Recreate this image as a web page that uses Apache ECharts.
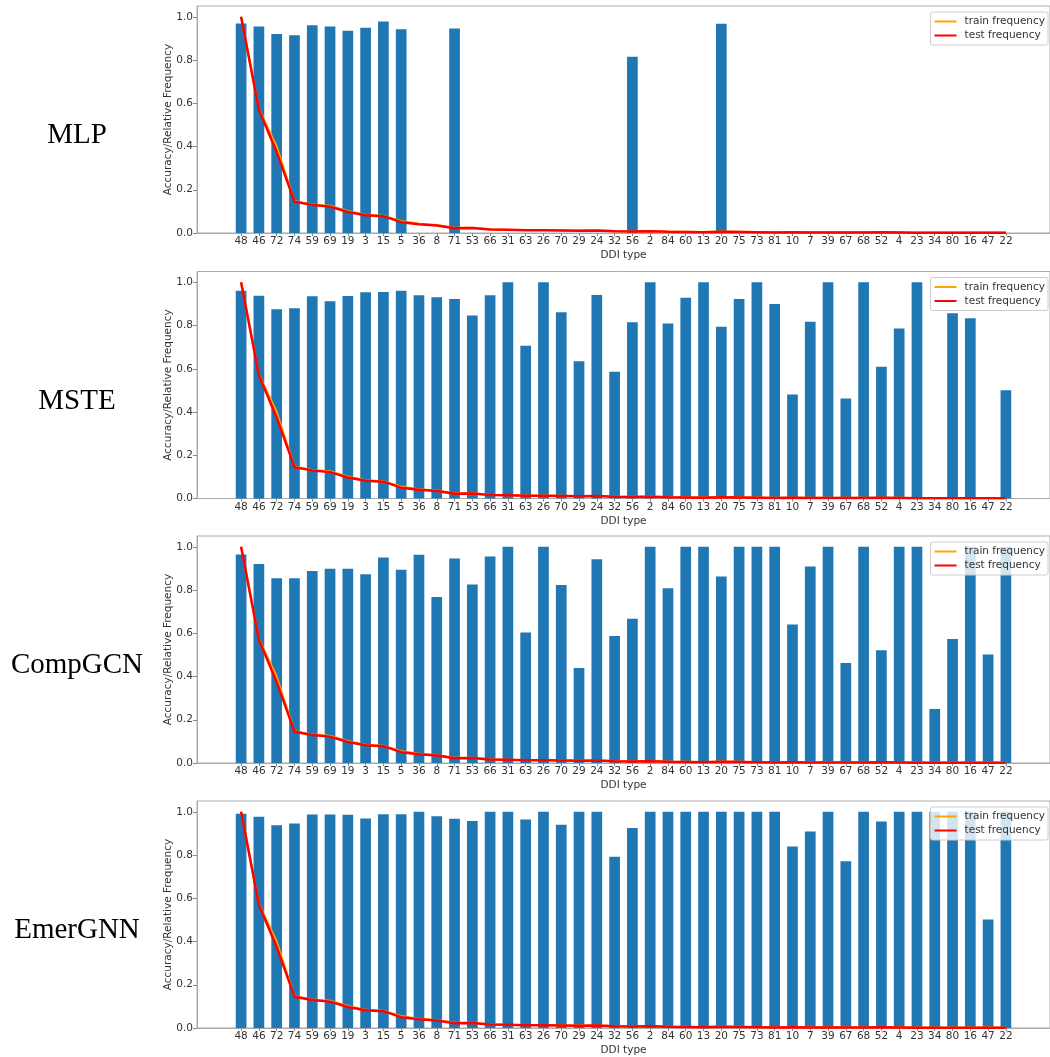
<!DOCTYPE html>
<html>
<head>
<meta charset="utf-8">
<script src="https://cdn.jsdelivr.net/npm/echarts@6/dist/echarts.min.js"></script>
<style>
html,body{margin:0;padding:0;background:#fff;}
#chart{width:1050px;height:1057px;}
</style>
</head>
<body>
<div id="chart"></div>
<script>
// DDI types (x categories)
const cats = ['48','46','72','74','59','69','19','3','15','5','36','8','71','53','66','31','63','26','70','29','24','32','56','2','84','60','13','20','75','73','81','10','7','39','67','68','52','4','23','34','80','16','47','22'];

// relative frequencies
const trainFreq = [1.0,0.575,0.40,0.148,0.132,0.126,0.102,0.085,0.080,0.056,0.043,0.037,0.024,0.024,0.017,0.015,0.014,0.014,0.013,0.011,0.012,0.009,0.008,0.009,0.007,0.006,0.005,0.007,0.006,0.005,0.003,0.004,0.003,0.003,0.003,0.003,0.004,0.003,0.002,0.002,0.002,0.002,0.002,0.002];
const testFreq  = [1.0,0.570,0.375,0.145,0.130,0.122,0.097,0.082,0.078,0.050,0.041,0.035,0.022,0.023,0.016,0.015,0.013,0.013,0.012,0.010,0.012,0.008,0.007,0.008,0.006,0.005,0.004,0.006,0.005,0.004,0.002,0.003,0.002,0.002,0.002,0.002,0.003,0.002,0.001,0.001,0.001,0.001,0.001,0.001];

// accuracies per model
const mlpAcc     = [0.969,0.955,0.920,0.915,0.961,0.955,0.935,0.949,0.978,0.943,0,0,0.946,0,0,0,0,0,0,0,0,0,0.815,0,0,0,0,0.968,0,0,0,0,0,0,0,0,0,0,0,0,0,0,0,0];
const msteAcc    = [0.961,0.938,0.875,0.880,0.935,0.912,0.937,0.954,0.955,0.961,0.940,0.931,0.923,0.847,0.940,1.0,0.706,1.0,0.861,0.635,0.941,0.586,0.815,1.0,0.809,0.929,1.0,0.794,0.923,1.0,0.900,0.481,0.818,1.0,0.462,1.0,0.609,0.786,1.0,0,0.857,0.834,0,0.501];
const compgcnAcc = [0.965,0.920,0.854,0.854,0.888,0.899,0.899,0.873,0.951,0.894,0.963,0.768,0.946,0.826,0.955,1.0,0.604,1.0,0.823,0.439,0.942,0.587,0.667,1.0,0.808,1.0,1.0,0.863,1.0,1.0,1.0,0.641,0.909,1.0,0.462,1.0,0.522,1.0,1.0,0.250,0.573,1.0,0.502,1.0];
const emergnnAcc = [0.991,0.977,0.938,0.946,0.988,0.988,0.986,0.969,0.989,0.989,1.0,0.980,0.968,0.958,1.0,1.0,0.965,1.0,0.940,1.0,1.0,0.792,0.925,1.0,1.0,1.0,1.0,1.0,1.0,1.0,1.0,0.840,0.909,1.0,0.771,1.0,0.955,1.0,1.0,1.0,1.0,1.0,0.502,1.0];

const models = ['MLP','MSTE','CompGCN','EmerGNN'];
const accs = [mlpAcc, msteAcc, compgcnAcc, emergnnAcc];
const yTicks = [0, 0.2, 0.4, 0.6, 0.8, 1.0];
const xName = 'DDI type';
const yName = 'Accuracy/Relative Frequency';
const trainName = 'train frequency';
const testName = 'test frequency';

const FONT = '"DejaVu Sans"';
const tops = [6, 271.5, 536, 801];
const gridH = 227, gridL = 197, gridW = 858;
const idx = cats.map((c, i) => i);

const grid = [], xAxis = [], yAxis = [], series = [], legend = [], graphic = [];
tops.forEach((t, p) => {
  grid.push({left: gridL, top: t, width: gridW, height: gridH, show: true, borderColor: '#aaa', borderWidth: 1, backgroundColor: 'transparent'});
  xAxis.push({
    type: 'value', gridIndex: p, min: -2.48, max: 45.48,
    name: xName, nameLocation: 'middle', nameGap: 17, nameMoveOverlap: false,
    nameTextStyle: {fontFamily: FONT, fontSize: 10.5, color: '#333'},
    axisLine: {show: true, onZero: false, lineStyle: {color: '#aaa'}},
    axisTick: {show: true, length: 3, customValues: idx, lineStyle: {color: '#888'}},
    axisLabel: {customValues: idx, formatter: v => cats[v] !== undefined ? cats[v] : '', margin: 3, fontFamily: FONT, fontSize: 10.5, color: '#333'},
    splitLine: {show: false}
  });
  yAxis.push({
    type: 'value', gridIndex: p, min: 0, max: 1.05,
    name: yName, nameLocation: 'middle', nameGap: 23, nameRotate: 90, nameMoveOverlap: false,
    nameTextStyle: {fontFamily: FONT, fontSize: 10.5, color: '#333'},
    axisLine: {show: true, onZero: false, lineStyle: {color: '#aaa'}},
    axisTick: {show: true, length: 4, customValues: yTicks, lineStyle: {color: '#888'}},
    axisLabel: {customValues: yTicks, formatter: v => v.toFixed(1), margin: 4, fontFamily: FONT, fontSize: 10.5, color: '#333'},
    splitLine: {show: false}
  });
  series.push({
    type: 'bar', xAxisIndex: p, yAxisIndex: p, barWidth: 10.7,
    itemStyle: {color: '#1f77b4'}, z: 2, silent: true,
    data: idx.map(i => [i, accs[p][i]])
  });
  series.push({
    name: trainName, type: 'line', xAxisIndex: p, yAxisIndex: p, color: '#ffa500',
    showSymbol: false, symbol: 'none', lineStyle: {width: 2, color: '#ffa500'}, z: 3,
    data: idx.map(i => [i, trainFreq[i]])
  });
  series.push({
    name: testName, type: 'line', xAxisIndex: p, yAxisIndex: p, color: '#ff0000',
    showSymbol: false, symbol: 'none', lineStyle: {width: 2.5, color: '#ff0000'}, z: 4,
    data: idx.map(i => [i, testFreq[i]])
  });
  legend.push({
    data: [trainName, testName], orient: 'vertical', right: 2, top: t + 6,
    icon: 'rect', itemWidth: 22, itemHeight: 2, itemGap: 3,
    padding: [4, 3, 4, 4], backgroundColor: 'rgba(255,255,255,0.8)',
    borderColor: '#ccc', borderWidth: 1, borderRadius: 2,
    textStyle: {fontFamily: FONT, fontSize: 10.5, color: '#333', padding: [0, 0, 0, 3]},
    selectedMode: false, z: 10
  });
  graphic.push({
    type: 'text', x: 77, y: t + gridH / 2 + 16,
    style: {text: models[p], font: '29px "Liberation Serif"', fill: '#000', textAlign: 'center', textVerticalAlign: 'middle'}
  });
});

const chart = echarts.init(document.getElementById('chart'), null, {renderer: 'canvas'});
chart.setOption({
  animation: false,
  backgroundColor: '#fff',
  grid, xAxis, yAxis, series, legend, graphic
});
</script>
</body>
</html>
